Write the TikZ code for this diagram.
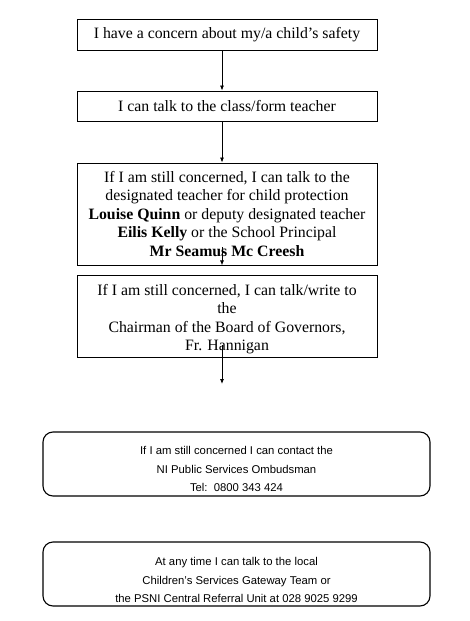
\documentclass[tikz,border=0pt]{standalone}
\usepackage{fontspec}
\setmainfont{Liberation Serif}
\newfontfamily\arialfont{Liberation Sans}
\usetikzlibrary{arrows.meta}
\newcommand{\lowered}[2]{\raisebox{-#1}[0pt][0pt]{\begin{tabular}{@{}c@{}}#2\end{tabular}}}
\begin{document}
\begin{tikzpicture}[x=1pt,y=-1pt,
  sqbox/.style={draw, line width=0.9pt, minimum width=300pt, align=center, inner sep=0pt,
    font=\fontsize{15.8}{18.5}\selectfont},
  rbox/.style={draw, line width=1.1pt, rounded corners=10pt, minimum width=387pt, minimum height=64pt,
    align=center, inner sep=0pt, font=\arialfont\fontsize{11.3}{18.5}\selectfont},
  arr/.style={-{Latex[length=5pt,width=4pt]}, line width=0.8pt}]
\useasboundingbox (0,0) rectangle (470,621);
\fill[white] (0,0) rectangle (470,621);
\node[sqbox, minimum height=31pt] (b1) at (227,34.5) {I have a concern about my/a child’s safety};
\node[sqbox, minimum height=30pt] (b2) at (227,106) {I can talk to the class/form teacher};
\node[sqbox, minimum height=102pt] (b3) at (227,214) {If I am still concerned, I can talk to the\\designated teacher for child protection\\\textbf{Louise Quinn} or deputy designated teacher\\\textbf{Eilis Kelly} or the School Principal\\\textbf{Mr Seamus Mc Creesh}};
\node[sqbox, minimum height=82pt] (b4) at (227,316) {\lowered{7pt}{If I am still concerned, I can talk/write to\\the\\Chairman of the Board of Governors,\\Fr. Hannigan}};
\node[rbox] (b5) at (236.5,464) {\lowered{8.3pt}{If I am still concerned I can contact the\\NI Public Services Ombudsman\\Tel:\ \ 0800 343 424}};
\node[rbox] (b6) at (236.5,574) {\lowered{9.3pt}{At any time I can talk to the local\\Children’s Services Gateway Team or\\the PSNI Central Referral Unit at 028 9025 9299}};
\coordinate (s3) at (222,247);
\coordinate (s4) at (222,345);
\coordinate (e4) at (222,384);
\draw[arr] ([xshift=-5pt]b1.south) -- ([xshift=-5pt]b2.north);
\draw[arr] ([xshift=-5pt]b2.south) -- ([xshift=-5pt]b3.north);
\draw[arr] (s3) -- ([xshift=-5pt]b3.south);
\draw[arr] (s4) -- (e4);
\end{tikzpicture}
\end{document}
